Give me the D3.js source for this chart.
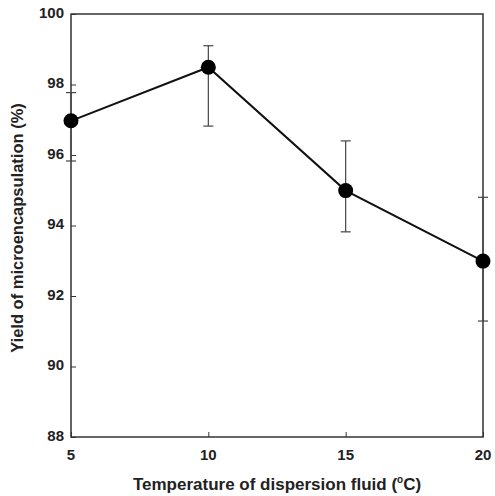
<!DOCTYPE html>
<html>
<head>
<meta charset="utf-8">
<script src="https://cdn.jsdelivr.net/npm/d3@7"></script>
<style>
  body { margin: 0; background: #fff; }
  text { font-family: "Liberation Sans", Arial, sans-serif; font-weight: bold; fill: #222; }
</style>
</head>
<body>
<svg id="chart"></svg>
<script>
var width = 495;
var height = 496;

// data
var temps = [5, 10, 15, 20];
var yields = [96.97, 98.49, 94.99, 92.99];
var errHigh = [97.77, 99.10, 96.40, 94.80];
var errLow = [95.83, 96.82, 93.82, 91.29];
var xTicks = [5, 10, 15, 20];
var yTicks = [88, 90, 92, 94, 96, 98, 100];

var margin = {top: 14, right: 12, bottom: 59, left: 71};

var svg = d3.select('#chart').attr('width', width).attr('height', height);

var x = d3.scaleLinear().domain([5, 20]).range([margin.left, width - margin.right]);
var y = d3.scaleLinear().domain([88, 100]).range([height - margin.bottom, margin.top]);

var points = temps.map(function(t, i) {
  return {t: t, v: yields[i], hi: errHigh[i], lo: errLow[i]};
});

// frame
svg.append('rect')
  .attr('x', x(5)).attr('y', y(100))
  .attr('width', x(20) - x(5)).attr('height', y(88) - y(100))
  .style('fill', 'none').style('stroke', '#333').style('stroke-width', 1.5);

// axes, ticks pointing inward
var yAxis = svg.append('g')
  .attr('transform', 'translate(' + margin.left + ',0)')
  .call(d3.axisRight(y).tickValues(yTicks).tickSize(5).tickFormat(''));
var xAxis = svg.append('g')
  .attr('transform', 'translate(0,' + (height - margin.bottom) + ')')
  .call(d3.axisTop(x).tickValues(xTicks).tickSize(5).tickFormat(''));
[yAxis, xAxis].forEach(function(a) {
  a.select('.domain').remove();
  a.selectAll('line').style('stroke', '#333').style('stroke-width', 1);
});

svg.selectAll('.y-label').data(yTicks).enter()
  .append('text').classed('y-label', true)
  .attr('x', margin.left - 7)
  .attr('y', function(d) { return y(d); })
  .style('text-anchor', 'end')
  .style('dominant-baseline', 'middle')
  .style('font-size', '15px')
  .text(function(d) { return d; });

svg.selectAll('.x-label').data(xTicks).enter()
  .append('text').classed('x-label', true)
  .attr('x', function(d) { return x(d); })
  .attr('y', height - margin.bottom + 19)
  .style('text-anchor', 'middle')
  .style('dominant-baseline', 'middle')
  .style('font-size', '15px')
  .text(function(d) { return d; });

// axis titles
var xt = svg.append('text')
  .attr('x', 277).attr('y', 490)
  .style('text-anchor', 'middle')
  .style('font-size', '17px');
xt.append('tspan').text('Temperature of dispersion fluid (');
xt.append('tspan').attr('dy', -7).style('font-size', '10px').text('o');
xt.append('tspan').attr('dy', 7).text('C)');

svg.append('text')
  .attr('transform', 'translate(23,' + 228 + ') rotate(-90)')
  .style('text-anchor', 'middle')
  .style('font-size', '16.5px')
  .text('Yield of microencapsulation (%)');

// error bars
var eb = svg.selectAll('.err').data(points).enter().append('g').classed('err', true);
eb.append('line')
  .attr('x1', function(d) { return x(d.t); }).attr('x2', function(d) { return x(d.t); })
  .attr('y1', function(d) { return y(d.hi); }).attr('y2', function(d) { return y(d.lo); });
eb.append('line')
  .attr('x1', function(d) { return x(d.t) - 5; }).attr('x2', function(d) { return x(d.t) + 5; })
  .attr('y1', function(d) { return y(d.hi); }).attr('y2', function(d) { return y(d.hi); });
eb.append('line')
  .attr('x1', function(d) { return x(d.t) - 5; }).attr('x2', function(d) { return x(d.t) + 5; })
  .attr('y1', function(d) { return y(d.lo); }).attr('y2', function(d) { return y(d.lo); });
eb.selectAll('line').style('stroke', '#444').style('stroke-width', 1.2);

// line + markers
var line = d3.line()
  .x(function(d) { return x(d.t); })
  .y(function(d) { return y(d.v); });
svg.append('path').datum(points)
  .attr('d', line)
  .style('fill', 'none').style('stroke', '#111').style('stroke-width', 2);

svg.selectAll('.dot').data(points).enter()
  .append('circle').classed('dot', true)
  .attr('cx', function(d) { return x(d.t); })
  .attr('cy', function(d) { return y(d.v); })
  .attr('r', 7.5)
  .style('fill', '#000');
</script>
</body>
</html>
